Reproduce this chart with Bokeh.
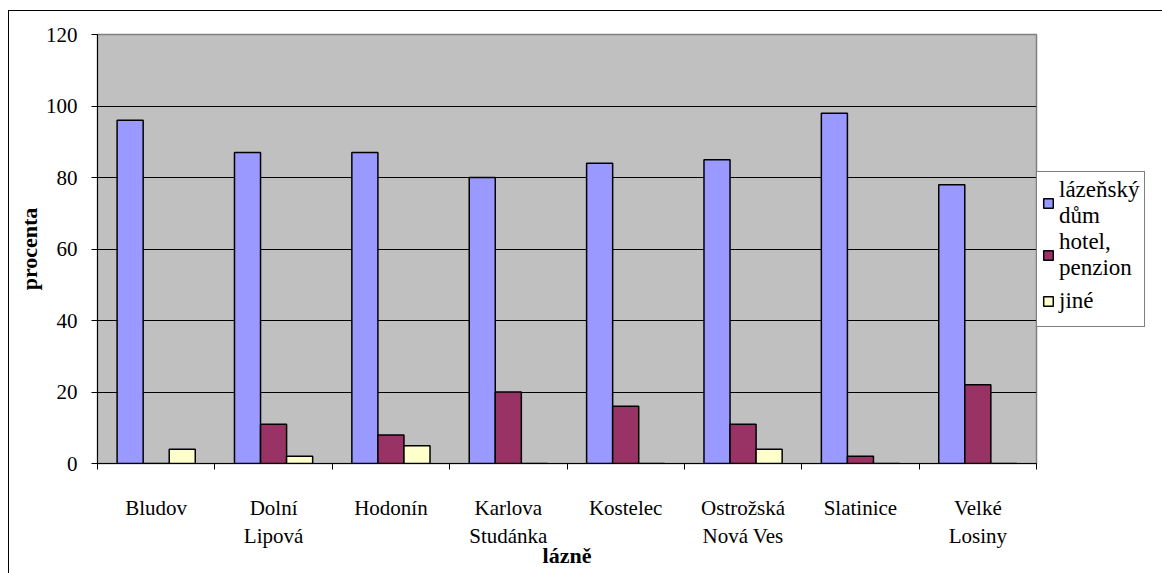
from bokeh.plotting import figure
from bokeh.models import (ColumnDataSource, FixedTicker, LinearAxis, Range1d,
                          Legend, LegendItem, Grid)
from bokeh.embed import file_html
from bokeh.resources import INLINE

# ---- data ----
categories = ["Bludov", "Dolní\nLipová", "Hodonín", "Karlova\nStudánka",
              "Kostelec", "Ostrožská\nNová Ves", "Slatinice", "Velké\nLosiny"]
series_names = ["lázeňský\ndům", "hotel,\npenzion", "jiné"]
lazensky_dum = [96, 87, 87, 80, 84, 85, 98, 78]
hotel_penzion = [0, 11, 8, 20, 16, 11, 2, 22]
jine = [4, 2, 5, 0, 0, 4, 0, 0]
y_ticks = [0, 20, 40, 60, 80, 100, 120]

colors = ["#9999FF", "#993366", "#FFFFCC"]
series = [lazensky_dum, hotel_penzion, jine]

FONT = "Liberation Serif"
n = len(categories)
centers = [i + 0.5 for i in range(n)]
bw = 0.222
offsets = [-bw, 0.0, bw]

p = figure(frame_width=939, frame_height=429, output_backend="svg",
           toolbar_location=None,
           x_range=Range1d(0, n), y_range=Range1d(0, 120),
           x_axis_type=None, y_axis_type=None,
           min_border_left=88, min_border_right=120, min_border_top=23,
           min_border_bottom=110)
p.background_fill_color = "#C0C0C0"
p.border_fill_color = "white"
p.outline_line_color = "#808080"
p.outline_line_width = 1.5
p.styles = {"margin-left": "8px", "margin-top": "10px",
            "border-left": "1px solid #000000",
            "border-top": "1px solid #000000"}

renderers = []
for vals, col, off in zip(series, colors, offsets):
    src = ColumnDataSource(dict(x=[c + off for c in centers], top=vals))
    r = p.vbar(x="x", top="top", bottom=0, width=bw, source=src,
               fill_color=col, line_color="black", line_width=1.5)
    renderers.append(r)

# y axis
yax = LinearAxis(ticker=FixedTicker(ticks=y_ticks))
yax.axis_label = "procenta"
yax.axis_label_text_font = FONT
yax.axis_label_text_font_style = "bold"
yax.axis_label_text_font_size = "22px"
yax.axis_label_text_color = "black"
yax.axis_label_standoff = 1
yax.major_label_text_font = FONT
yax.major_label_text_font_size = "21px"
yax.major_label_text_color = "black"
yax.major_label_standoff = 14
yax.major_tick_in = 0
yax.major_tick_out = 6
yax.minor_tick_out = 0
yax.minor_tick_in = 0
yax.axis_line_color = "black"
p.add_layout(yax, "left")

# x axis: labels at category centres, ticks at category boundaries
xax = LinearAxis(ticker=FixedTicker(ticks=centers,
                                    minor_ticks=list(range(n + 1))))
xax.major_label_overrides = {c: lab for c, lab in zip(centers, categories)}
xax.axis_label = "lázně"
xax.axis_label_text_font = FONT
xax.axis_label_text_font_style = "bold"
xax.axis_label_text_font_size = "22px"
xax.axis_label_text_color = "black"
xax.axis_label_standoff = -8
xax.major_label_text_font = FONT
xax.major_label_text_font_size = "21px"
xax.major_label_text_color = "black"
xax.major_label_standoff = 26
xax.major_tick_in = 0
xax.major_tick_out = 0
xax.minor_tick_in = 0
xax.minor_tick_out = 6
xax.minor_tick_line_color = "black"
xax.axis_line_color = "black"
p.add_layout(xax, "below")

p.add_layout(Grid(dimension=1, ticker=FixedTicker(ticks=y_ticks),
                  grid_line_color="black", grid_line_width=1))

legend = Legend(items=[LegendItem(label=nm, renderers=[r])
                       for nm, r in zip(series_names, renderers)],
                location="center_left")
legend.label_text_font = FONT
legend.label_text_font_size = "23px"
legend.label_text_color = "black"
legend.label_height = 40
legend.glyph_width = 12
legend.glyph_height = 12
legend.label_standoff = 5
legend.spacing = 0
legend.padding = 5
legend.margin = 0
legend.border_line_color = "black"
legend.border_line_width = 1
legend.background_fill_color = "white"
legend.background_fill_alpha = 1
p.add_layout(legend, "right")

open("out.html", "w").write(file_html(p, INLINE))
